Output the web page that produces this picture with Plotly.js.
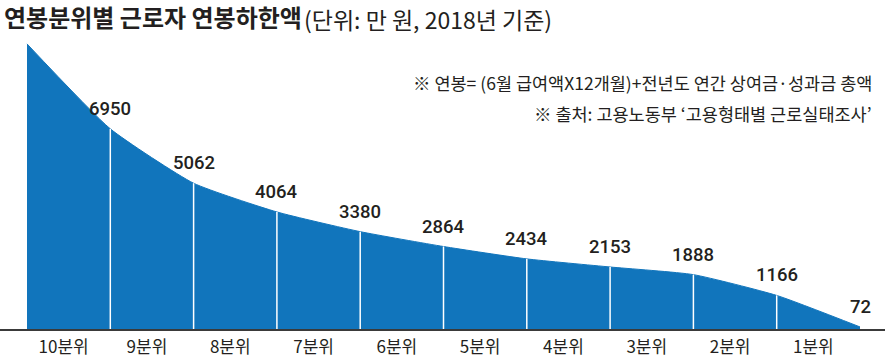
<!DOCTYPE html>
<html>
<head>
<meta charset="utf-8">
<script src="https://cdn.plot.ly/plotly-3.0.1.min.js"></script>
<style>html,body{margin:0;padding:0;background:#fff}#chart{width:885px;height:362px}</style>
</head>
<body>
<div id="chart"></div>
<script>
// Data (만 원, 2018)
const boundaryIndex = [0, 1, 2, 3, 4, 5, 6, 7, 8, 9, 10];
const boundaryValues = [9900, 6950, 5062, 4064, 3380, 2864, 2434, 2153, 1888, 1166, 72];
const labelShown = [false, true, true, true, true, true, true, true, true, true, true];
const categories = ['10분위', '9분위', '8분위', '7분위', '6분위', '5분위', '4분위', '3분위', '2분위', '1분위'];
const titleText = '연봉분위별 근로자 연봉하한액';
const subtitleText = '(단위: 만 원, 2018년 기준)';
const noteLines = ['※ 연봉= (6월 급여액X12개월)+전년도 연간 상여금·성과금 총액', '※ 출처: 고용노동부 ‘고용형태별 근로실태조사’'];

const blue = '#1175bc';
const ink = '#231f20';
const kr = '"Noto Sans CJK KR", "Noto Sans", sans-serif';

const area = {
  x: boundaryIndex, y: boundaryValues, type: 'scatter', mode: 'lines',
  line: {color: blue, width: 1, shape: 'spline', smoothing: 0.5},
  fill: 'tozeroy', fillcolor: blue, hoverinfo: 'skip'
};

const vx = [], vy = [];
for (let i = 1; i < boundaryIndex.length - 1; i++) {
  vx.push(boundaryIndex[i], boundaryIndex[i], null);
  vy.push(0, boundaryValues[i], null);
}
const dividers = {
  x: vx, y: vy, type: 'scatter', mode: 'lines',
  line: {color: '#ffffff', width: 1.5}, hoverinfo: 'skip'
};

const annotations = [];
boundaryIndex.forEach((xi, i) => {
  if (!labelShown[i]) return;
  annotations.push({
    x: xi, y: boundaryValues[i], xref: 'x', yref: 'y',
    text: String(boundaryValues[i]), showarrow: false,
    xanchor: 'center', yanchor: 'middle', yshift: 20,
    font: {family: 'Roboto, "Liberation Sans", sans-serif', size: 18.5, color: ink, weight: 500}
  });
});
annotations.push({
  x: 2, y: 16, xref: 'paper', yref: 'paper', text: '<b>' + titleText + '</b>',
  showarrow: false, xanchor: 'left', yanchor: 'middle',
  font: {family: kr, size: 24, color: ink}
});
annotations.push({
  x: 302, y: 19, xref: 'paper', yref: 'paper', text: subtitleText,
  showarrow: false, xanchor: 'left', yanchor: 'middle',
  font: {family: kr, size: 23, color: ink}
});
noteLines.forEach((t, i) => {
  annotations.push({
    x: 874, y: 82 + i * 31, text: t, showarrow: false,
    xanchor: 'right', yanchor: 'middle',
    font: {family: kr, size: 17.5, color: ink}
  });
});

// convert pixel-placed annotations (title/notes) to paper coordinates
const W = 885, H = 362, mL = 0, mR = 0, mT = 0, mB = 33;
const pw = W - mL - mR, ph = H - mT - mB;
annotations.forEach(a => {
  if (a.xref === 'x') return;
  a.xref = 'paper'; a.yref = 'paper';
  a.x = (a.x - mL) / pw;
  a.y = 1 - (a.y - mT) / ph;
});

const tickvals = categories.map((c, i) => i + 0.5);

const layout = {
  width: W, height: H,
  margin: {l: mL, r: mR, t: mT, b: mB, pad: 0},
  paper_bgcolor: '#fff', plot_bgcolor: '#fff',
  showlegend: false,
  xaxis: {
    range: [-27 / 83.3, 10 + 25 / 83.3], showgrid: false, zeroline: false,
    showline: true, linecolor: '#3a3a3a', linewidth: 1.5,
    tickmode: 'array', tickvals: tickvals, ticktext: categories,
    ticks: '', ticklabelstandoff: 2, ticklabelshift: -5,
    tickfont: {family: kr, size: 17, color: ink}, fixedrange: true
  },
  yaxis: {
    range: [0, 329 / 0.0288], visible: false, showgrid: false, zeroline: false, fixedrange: true
  },
  annotations: annotations
};

Plotly.newPlot('chart', [area, dividers], layout, {displayModeBar: false, staticPlot: true});
</script>
</body>
</html>
